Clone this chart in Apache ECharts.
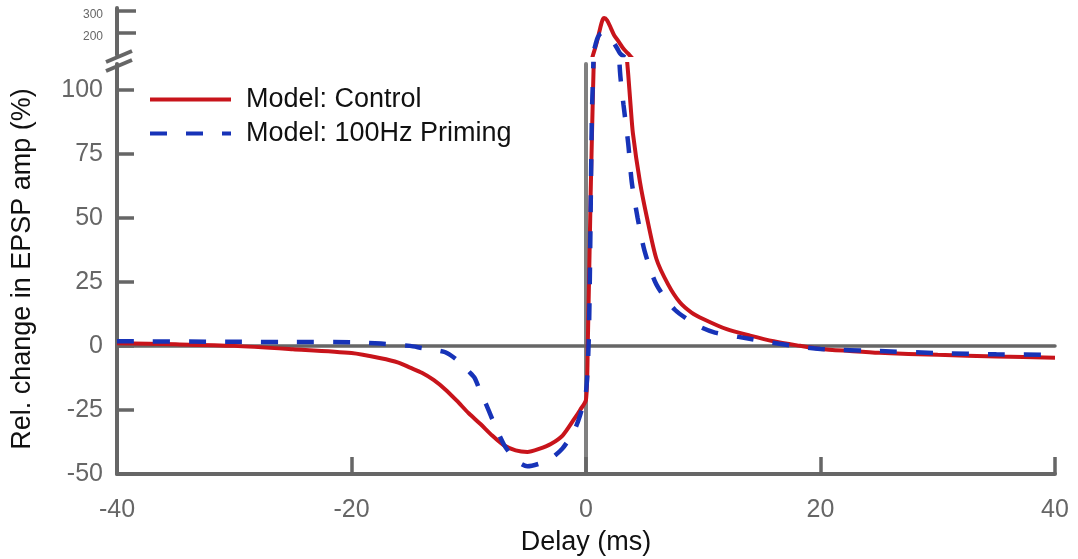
<!DOCTYPE html>
<html>
<head>
<meta charset="utf-8">
<script src="https://cdn.jsdelivr.net/npm/echarts@6/dist/echarts.min.js"></script>
<style>
  html, body { margin: 0; padding: 0; background: #fff; }
  #chart { width: 1078px; height: 559px; }
</style>
</head>
<body>
<div id="chart"></div>
<script>
// Spike-timing curves: relative EPSP change vs. pre/post delay
const controlDelay = [-40, -35, -30, -25, -20, -17.5, -16, -15, -14, -13, -12, -11, -10, -9, -8, -7, -6, -5, -4, -3, -2, -1, -0.5, 0, 0.15, 0.4, 0.6, 0.8, 1.0, 1.2, 1.4, 1.55, 1.8, 2.1, 2.4, 2.8, 3.2, 3.6, 3.8, 4.0, 4.6, 5.2, 6.0, 7.0, 8.0, 9.0, 10, 12, 14, 16, 18, 20, 22.5, 25, 30, 35, 40];
const controlChange = [1.0, 0.6, 0.0, -1.3, -2.8, -4.8, -6.5, -8.5, -10.5, -13.3, -17, -21.5, -26.3, -30.5, -35, -38.8, -40.8, -41.4, -40.2, -38.3, -35, -28.5, -25, -21, 0, 60, 100, 135, 175, 220, 258, 268, 258, 225, 190, 160, 128, 106, 94, 83, 64, 50, 34, 24, 17, 13, 10.5, 6.5, 4, 1.8, 0.2, -1.2, -2, -2.7, -3.5, -4.1, -4.6];

const primingDelay = [-40, -30, -25, -20, -17.5, -15, -14, -13, -12, -11, -10, -9.5, -9, -8.5, -8, -7, -6, -5, -4, -3, -2, -1, -0.5, 0, 0.25, 0.5, 0.6, 0.8, 1.0, 1.3, 1.6, 1.9, 2.3, 2.64, 2.9, 3.2, 3.6, 3.9, 4.4, 5.0, 6.0, 7.6, 9.7, 11, 13, 16.5, 20, 25, 30, 35, 40];
const primingChange = [1.8, 1.6, 1.5, 1.4, 0.9, 0, -0.8, -1.5, -2.5, -5.5, -10, -12.5, -18, -23, -28.5, -38.5, -44.5, -47, -46, -44, -40, -33, -27, -18, 5, 90, 105, 145, 180, 200, 198, 187, 160, 132, 107, 94, 79, 64, 50, 37, 24, 14, 7.5, 5.2, 3.5, 0.8, -1.2, -2, -2.8, -3.3, -3.5];

// axis ticks
const delayTicks = [-40, -20, 0, 20, 40];
const lowerTicks = [-50, -25, 0, 25, 50, 75, 100];
const upperTicks = [200, 300];

const NAME_CONTROL = 'Model: Control';
const NAME_PRIMING = 'Model: 100Hz Priming';

const RED = '#c8141b';
const BLUE = '#1733b8';
const AXIS = '#666666';
const FONT = '"Liberation Sans", Arial, Helvetica, sans-serif';

const pairs = (xs, ys) => xs.map((x, i) => [x, ys[i]]);
const controlData = pairs(controlDelay, controlChange);
const primingData = pairs(primingDelay, primingChange);

const chart = echarts.init(document.getElementById('chart'), null, { renderer: 'canvas' });

const axisLineStyle = { color: AXIS, width: 4 };
const tickStyle = { color: AXIS, width: 3.5 };

const controlStyle = { color: RED, width: 4, type: 'solid' };
const primingStyle = { color: BLUE, width: 4.5, type: [17, 19] };

function curve(name, data, style, gridIdx, z) {
  return {
    name: name,
    type: 'line',
    xAxisIndex: gridIdx,
    yAxisIndex: gridIdx,
    data: data,
    showSymbol: false,
    symbol: 'none',
    clip: true,
    smooth: 0.25,
    z: z,
    itemStyle: { color: style.color },
    lineStyle: style,
    emphasis: { disabled: true },
    animation: false
  };
}

const option = {
  backgroundColor: '#ffffff',
  animation: false,
  textStyle: { fontFamily: FONT },
  grid: [
    { left: 117, right: 23, top: 64, bottom: 85, outerBoundsMode: 'none', containLabel: false },
    { left: 117, right: 23, top: 8, height: 47, outerBoundsMode: 'none', containLabel: false }
  ],
  xAxis: [
    {
      type: 'value', gridIndex: 0, min: -40, max: 40, interval: 20,
      position: 'bottom',
      axisLine: { show: true, onZero: false, lineStyle: axisLineStyle },
      axisTick: { show: true, inside: true, length: 17, lineStyle: tickStyle, customValues: delayTicks },
      axisLabel: { show: true, fontSize: 25, color: AXIS, margin: 24, fontFamily: FONT, customValues: delayTicks },
      splitLine: { show: false },
      name: 'Delay (ms)', nameLocation: 'middle', nameGap: 55,
      nameTextStyle: { fontSize: 27, color: '#111', fontFamily: FONT }
    },
    {
      type: 'value', gridIndex: 1, min: -40, max: 40, interval: 20, show: false
    },
    {
      // horizontal reference line through zero change
      type: 'value', gridIndex: 0, min: -40, max: 40, interval: 20,
      axisLine: { show: true, onZero: true, onZeroAxisIndex: 0, lineStyle: { color: AXIS, width: 3.5 } },
      axisTick: { show: false }, axisLabel: { show: false }, splitLine: { show: false }
    }
  ],
  yAxis: [
    {
      type: 'value', gridIndex: 0, min: -50, max: 110, interval: 25,
      position: 'left',
      axisLine: { show: true, onZero: false, lineStyle: axisLineStyle },
      axisTick: { show: true, inside: true, length: 17, lineStyle: tickStyle, customValues: lowerTicks },
      axisLabel: { show: true, fontSize: 25, color: AXIS, margin: 14, fontFamily: FONT, customValues: lowerTicks },
      splitLine: { show: false },
      name: 'Rel. change in EPSP amp (%)', nameLocation: 'middle', nameGap: 81,
      nameTextStyle: { fontSize: 27, color: '#111', fontFamily: FONT }
    },
    {
      type: 'value', gridIndex: 1, min: 100, max: 314, interval: 100,
      position: 'left',
      axisLine: { show: true, onZero: false, lineStyle: axisLineStyle },
      axisTick: { show: true, inside: true, length: 19, lineStyle: tickStyle, customValues: upperTicks },
      axisLabel: {
        show: true, fontSize: 12, color: AXIS, margin: 14, fontFamily: FONT,
        customValues: upperTicks, verticalAlign: 'top', lineHeight: 8
      },
      splitLine: { show: false }
    },
    {
      // vertical reference line at zero delay
      type: 'value', gridIndex: 0, min: -50, max: 110, interval: 25,
      position: 'left',
      axisLine: { show: true, onZero: true, onZeroAxisIndex: 0, lineStyle: { color: '#808080', width: 4 } },
      axisTick: { show: false }, axisLabel: { show: false }, splitLine: { show: false }
    }
  ],
  legend: {
    orient: 'vertical',
    left: 148,
    top: 86,
    padding: 0,
    itemWidth: 81,
    itemHeight: 14,
    itemGap: 7,
    data: [NAME_CONTROL, NAME_PRIMING],
    itemStyle: { opacity: 0 },
    lineStyle: { width: 4 },
    textStyle: { fontSize: 27, color: '#111', fontFamily: FONT, lineHeight: 27, padding: [0, 0, 0, 10] },
    selectedMode: false
  },
  graphic: [
    // axis break marks between the two y ranges
    { type: 'line', z: 100, shape: { x1: 106, y1: 62, x2: 132, y2: 51 }, style: { stroke: AXIS, lineWidth: 4 } },
    { type: 'line', z: 100, shape: { x1: 106, y1: 71, x2: 132, y2: 60 }, style: { stroke: AXIS, lineWidth: 4 } }
  ],
  series: [
    curve(NAME_CONTROL, controlData, controlStyle, 0, 3),
    curve(NAME_PRIMING, primingData, primingStyle, 0, 4),
    curve(NAME_CONTROL, controlData, controlStyle, 1, 3),
    curve(NAME_PRIMING, primingData, primingStyle, 1, 4)
  ]
};

chart.setOption(option);
</script>
</body>
</html>
